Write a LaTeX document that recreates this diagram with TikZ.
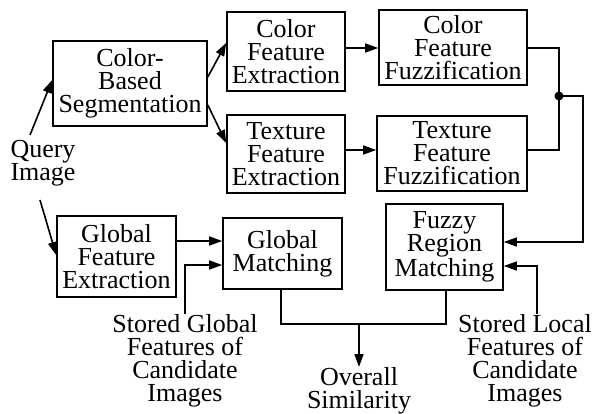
\documentclass[tikz,border=0pt]{standalone}
\usepackage{fontspec}
\setmainfont{Liberation Serif}
\newfontfamily\diagfont{Liberation Serif}
\usetikzlibrary{arrows.meta}
\begin{document}
\begin{tikzpicture}[x=1pt,y=-1pt,
  every node/.style={font=\diagfont\fontsize{26}{23}\selectfont, align=center, inner sep=0pt},
  blk/.style={draw, line width=1.6pt},
  lbl/.style={},
  conn/.style={line width=1.6pt},
  arr/.style={conn, -{Triangle[length=13pt,width=9pt]}}]
\useasboundingbox (0,0) rectangle (593,414);
% boxes
\node[blk, minimum width=154, minimum height=85] (cbs) at (130,83.5) {Color-\\Based\\Segmentation};
\node[blk, minimum width=118, minimum height=79] (cfe) at (286,51.5) {Color\\Feature\\Extraction};
\node[blk, minimum width=118, minimum height=78] (tfe) at (286,154) {Texture\\Feature\\Extraction};
\node[blk, minimum width=148, minimum height=75] (cff) at (453,47.5) {Color\\Feature\\Fuzzification};
\node[blk, minimum width=150, minimum height=75] (tff) at (452,153.5) {Texture\\Feature\\Fuzzification};
\node[blk, minimum width=119, minimum height=81] (gfe) at (116.5,256.5) {Global\\Feature\\Extraction};
\node[blk, minimum width=119, minimum height=71] (gm) at (282.5,253.5) {Global\\Matching};
\node[blk, minimum width=117, minimum height=86] (frm) at (444.5,247) {Fuzzy\\Region\\Matching};
% labels
\node[lbl] (qi) at (43,163) {Query\\Image};
\node[lbl, anchor=north] (sg) at (185,314) {Stored Global\\Features of\\Candidate\\Images};
\node[lbl, anchor=north] (sl) at (525,314) {Stored Local\\Features of\\Candidate\\Images};
\node[lbl, anchor=north] (os) at (359,367) {Overall\\Similarity};
% coordinates
\coordinate (q1) at (30,135);
\coordinate (q2) at (40,200);
\coordinate (j1) at (559,48);
\coordinate (j2) at (559,150);
\coordinate (jd) at (559,96);
\coordinate (jc) at (583,96);
\coordinate (gmb) at (281,324);
\coordinate (frmb) at (446,324);
\coordinate (ov) at (359,324);
% connectors
\draw[arr] (q1) -- (cbs.west |- 0,80);
\draw[arr] (q2) -- (gfe.west |- 0,255);
\draw[arr] (cbs.east |- 0,77) -- (cfe.west |- 0,43);
\draw[arr] (cbs.east |- 0,105) -- (tfe.west |- 0,143);
\draw[arr] (cfe.east |- 0,48) -- (cff.west |- 0,48);
\draw[arr] (tfe.east |- 0,150) -- (tff.west |- 0,150);
\draw[conn] (cff.east |- j1) -- (j1) -- (j2) -- (tff.east |- j2);
\fill (jd) circle (4.5);
\draw[arr] (jd) -- (jc) |- (frm.east |- 0,242);
\draw[arr] ([xshift=12pt]sl.north) |- (frm.east |- 0,266);
\draw[arr] (gfe.east |- 0,241) -- (gm.west |- 0,241);
\draw[arr] (sg.north) |- (gm.west |- 0,265);
\draw[conn] (gm.south -| gmb) -- (gmb) -- (frmb) -- (frm.south -| frmb);
\draw[arr] (ov) -- (os.north);
\end{tikzpicture}
\end{document}
